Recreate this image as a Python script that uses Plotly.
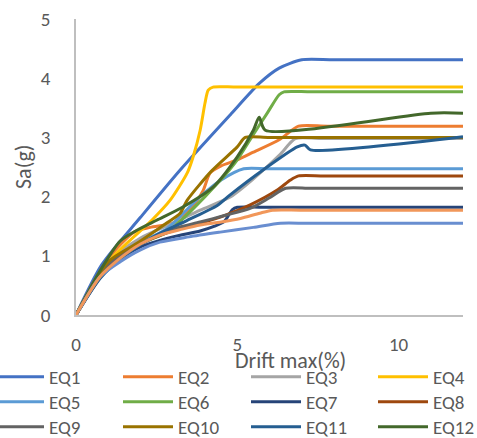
import plotly.graph_objects as go

# ---- data ----
eq1_x = [0, 0.8, 2.0, 3.23, 4.78, 5.7, 6.3, 7.0, 8.0, 12]
eq1_y = [0, 0.85, 1.65, 2.45, 3.38, 3.92, 4.17, 4.31, 4.31, 4.31]

eq2_x = [0, 1.0, 1.8, 2.3, 3.0, 3.4, 3.65, 3.94, 4.16, 4.5, 5.0, 5.5, 6.3, 6.9, 7.8, 12]
eq2_y = [0, 0.95, 1.4, 1.48, 1.55, 1.7, 1.85, 2.1, 2.4, 2.52, 2.62, 2.75, 2.96, 3.19, 3.19, 3.19]

eq3_x = [0, 1.0, 2.0, 3.0, 3.85, 4.8, 5.5, 6.34, 6.8, 7.6, 12]
eq3_y = [0, 0.9, 1.3, 1.55, 1.77, 2.0, 2.3, 2.72, 2.98, 2.98, 2.98]

eq4_x = [0, 1.06, 2.35, 2.92, 3.45, 3.63, 3.85, 4.0, 4.1, 4.25, 5.0, 12]
eq4_y = [0, 0.93, 1.6, 1.94, 2.4, 2.67, 3.12, 3.58, 3.8, 3.85, 3.85, 3.85]

eq5_x = [0, 1.0, 1.8, 2.8, 3.85, 4.5, 5.2, 6.0, 12]
eq5_y = [0, 0.85, 1.18, 1.45, 2.0, 2.28, 2.47, 2.47, 2.47]

eq6_x = [0, 1.0, 2.0, 2.83, 3.3, 4.0, 4.6, 5.0, 5.5, 5.93, 6.3, 6.45, 7.3, 12]
eq6_y = [0, 0.85, 1.2, 1.4, 1.62, 2.0, 2.35, 2.62, 3.05, 3.41, 3.72, 3.77, 3.77, 3.77]

eq7_x = [0, 1.0, 2.0, 3.0, 3.85, 4.3, 4.6, 4.85, 5.0, 5.8, 12]
eq7_y = [0, 0.8, 1.15, 1.32, 1.42, 1.5, 1.58, 1.78, 1.82, 1.82, 1.82]

eq8_x = [0, 1.0, 2.0, 3.0, 3.85, 4.6, 5.4, 6.24, 6.65, 6.9, 7.7, 12]
eq8_y = [0, 0.85, 1.2, 1.42, 1.55, 1.68, 1.86, 2.11, 2.28, 2.35, 2.35, 2.35]

eq9_x = [0, 1.0, 2.0, 3.0, 3.85, 4.6, 5.4, 6.0, 6.5, 7.3, 12]
eq9_y = [0, 0.85, 1.2, 1.45, 1.57, 1.68, 1.8, 1.98, 2.14, 2.14, 2.14]

eq10_x = [0, 1.0, 1.89, 2.8, 3.23, 3.45, 4.2, 5.0, 5.25, 6.0, 12]
eq10_y = [0, 0.9, 1.21, 1.55, 1.72, 1.94, 2.43, 2.84, 3.0, 3.0, 3.0]

eq11_x = [0, 0.75, 1.5, 2.5, 3.45, 4.38, 4.78, 5.8, 6.86, 7.1, 7.27, 12]
eq11_y = [0, 0.62, 1.0, 1.35, 1.6, 1.85, 2.03, 2.45, 2.84, 2.87, 2.79, 3.01]

eq12_x = [0, 0.75, 1.37, 1.85, 2.5, 3.3, 4.25, 5.0, 5.5, 5.68, 5.87, 11.0, 12]
eq12_y = [0, 0.75, 1.25, 1.42, 1.6, 1.82, 2.16, 2.67, 3.12, 3.34, 3.12, 3.41, 3.41]

eq13_x = [0, 0.75, 1.37, 2.0, 2.6, 3.5, 4.47, 5.5, 6.34, 7.2, 12]
eq13_y = [0, 0.65, 0.9, 1.1, 1.23, 1.32, 1.4, 1.48, 1.55, 1.55, 1.55]

eq14_x = [0, 0.75, 1.37, 2.0, 2.6, 3.3, 3.85, 4.5, 5.1, 5.7, 6.1, 7.0, 12]
eq14_y = [0, 0.65, 0.96, 1.2, 1.35, 1.45, 1.52, 1.57, 1.63, 1.72, 1.77, 1.77, 1.77]

series_names = ["EQ1", "EQ2", "EQ3", "EQ4", "EQ5", "EQ6", "EQ7",
                "EQ8", "EQ9", "EQ10", "EQ11", "EQ12", "EQ13", "EQ14"]
series_x = [eq1_x, eq2_x, eq3_x, eq4_x, eq5_x, eq6_x, eq7_x,
            eq8_x, eq9_x, eq10_x, eq11_x, eq12_x, eq13_x, eq14_x]
series_y = [eq1_y, eq2_y, eq3_y, eq4_y, eq5_y, eq6_y, eq7_y,
            eq8_y, eq9_y, eq10_y, eq11_y, eq12_y, eq13_y, eq14_y]
colors = ["#4472C4", "#ED7D31", "#A5A5A5", "#FFC000", "#5B9BD5", "#70AD47",
          "#264478", "#9E480E", "#636363", "#997300", "#255E91", "#43682B",
          "#698ED0", "#F1975A"]

x_ticks = [0, 5, 10]
y_ticks = [0, 1, 2, 3, 4, 5]

FONT = "Carlito, Calibri, Lato, sans-serif"
TXT = "#595959"
FS = 19
TITLE_FS = 22

W, H = 477, 438
L, R, T, B = 76, 14, 19, 123
pw = W - L - R
ph = H - T - B

def px_x(p):
    return (p - L) / pw

def px_y(p):
    return (H - B - p) / ph

# legend grid: 4 columns, one small legend per entry
col_left = [-11, 118, 246, 373]
row_top = [358, 383, 408, 433]

fig = go.Figure()
layout_legends = {}
for i, (n, xs, ys, c) in enumerate(zip(series_names, series_x, series_y, colors)):
    lid = "legend" if i == 0 else "legend%d" % (i + 1)
    fig.add_trace(go.Scatter(
        x=xs, y=ys, name=n, mode="lines",
        line=dict(color=c, width=3, shape="spline", smoothing=0.7),
        legend=lid,
    ))
    layout_legends[lid] = dict(
        orientation="v", xanchor="left", yanchor="top",
        x=px_x(col_left[i % 4]), y=px_y(row_top[i // 4]),
        font=dict(family=FONT, size=FS, color=TXT),
        bgcolor="rgba(0,0,0,0)", itemwidth=50,
    )

fig.update_layout(
    width=W, height=H,
    margin=dict(l=L, r=R, t=T, b=B, autoexpand=False),
    paper_bgcolor="white", plot_bgcolor="white",
    font=dict(family=FONT, size=FS, color=TXT),
    showlegend=True,
    xaxis=dict(range=[0, 12], tickvals=x_ticks, showgrid=False, zeroline=False,
               showline=True, linecolor="#BFBFBF", linewidth=1.5,
               ticks="", ticklabelstandoff=11,
               tickfont=dict(family=FONT, size=FS, color=TXT)),
    yaxis=dict(range=[0, 5], tickvals=y_ticks, showgrid=False, zeroline=False,
               showline=True, linecolor="#BFBFBF", linewidth=1.5,
               ticks="", ticklabelstandoff=20,
               tickfont=dict(family=FONT, size=FS, color=TXT)),
    annotations=[
        dict(text="Sa(g)", x=px_x(23), y=0.5, xref="paper", yref="paper",
             textangle=-90, showarrow=False, xanchor="center", yanchor="middle",
             font=dict(family=FONT, size=TITLE_FS, color=TXT)),
        dict(text="Drift max(%)", x=px_x(290), y=px_y(360), xref="paper", yref="paper",
             showarrow=False, xanchor="center", yanchor="middle",
             font=dict(family=FONT, size=TITLE_FS, color=TXT)),
    ],
    **layout_legends,
)

fig.write_html("out.html", config={"displayModeBar": False},
               post_script="document.body.style.margin='0';document.body.style.overflow='hidden';")
